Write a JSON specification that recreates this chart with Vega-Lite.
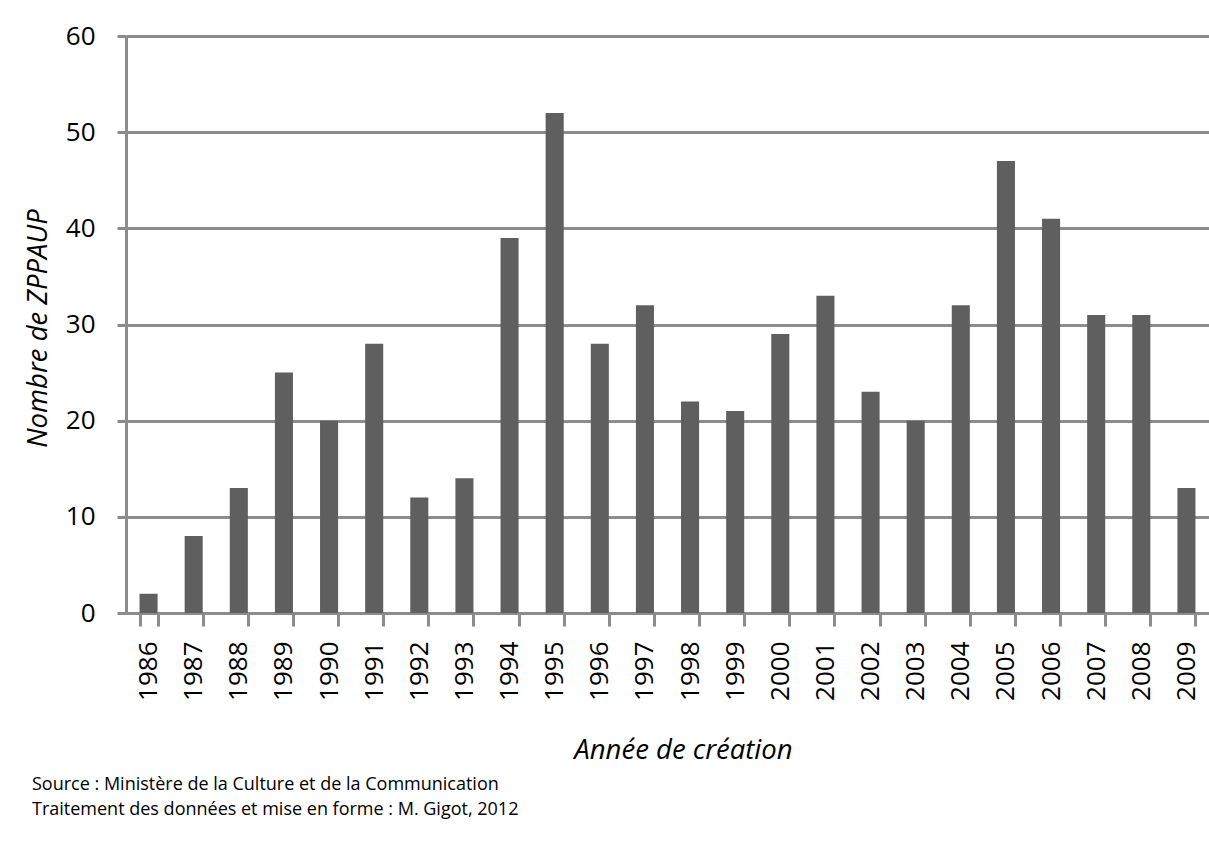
{
  "$schema": "https://vega.github.io/schema/vega-lite/v6.json",
  "width": 1083,
  "height": 577,
  "autosize": {"type": "none"},
  "padding": {"left": 126, "top": 36, "right": 0, "bottom": 230},
  "background": "white",
  "config": {"font": "Open Sans", "view": {"stroke": null}},
  "title": {
    "text": ["Source : Ministère de la Culture et de la Communication", "Traitement des données et mise en forme : M. Gigot, 2012"],
    "orient": "bottom",
    "anchor": "start",
    "frame": "group",
    "dx": -94,
    "offset": 12,
    "fontSize": 18,
    "fontWeight": "normal",
    "color": "black",
    "lineHeight": 25
  },
  "data": {
    "values": [
      {"annee": "1986", "nombre": 2},
      {"annee": "1987", "nombre": 8},
      {"annee": "1988", "nombre": 13},
      {"annee": "1989", "nombre": 25},
      {"annee": "1990", "nombre": 20},
      {"annee": "1991", "nombre": 28},
      {"annee": "1992", "nombre": 12},
      {"annee": "1993", "nombre": 14},
      {"annee": "1994", "nombre": 39},
      {"annee": "1995", "nombre": 52},
      {"annee": "1996", "nombre": 28},
      {"annee": "1997", "nombre": 32},
      {"annee": "1998", "nombre": 22},
      {"annee": "1999", "nombre": 21},
      {"annee": "2000", "nombre": 29},
      {"annee": "2001", "nombre": 33},
      {"annee": "2002", "nombre": 23},
      {"annee": "2003", "nombre": 20},
      {"annee": "2004", "nombre": 32},
      {"annee": "2005", "nombre": 47},
      {"annee": "2006", "nombre": 41},
      {"annee": "2007", "nombre": 31},
      {"annee": "2008", "nombre": 31},
      {"annee": "2009", "nombre": 13}
    ]
  },
  "mark": {"type": "bar", "color": "#5f5f5f"},
  "encoding": {
    "x": {
      "field": "annee",
      "type": "ordinal",
      "scale": {"paddingInner": 0.6, "paddingOuter": 0.3},
      "axis": {
        "title": "Année de création",
        "titleFontSize": 27.5,
        "titleFontStyle": "italic",
        "titleFontWeight": "normal",
        "titleColor": "black",
        "titleX": 557,
        "titleY": 145,
        "titleBaseline": "alphabetic",
        "labelAngle": -90,
        "labelFontSize": 26,
        "labelColor": "black",
        "labelPadding": 15,
        "tickBand": "extent",
        "tickSize": 13,
        "tickWidth": 3,
        "tickColor": "#8c8c8c",
        "domainColor": "#8c8c8c",
        "domainWidth": 3
      }
    },
    "y": {
      "field": "nombre",
      "type": "quantitative",
      "scale": {"domain": [0, 60]},
      "axis": {
        "title": "Nombre de ZPPAUP",
        "titleFontSize": 27.5,
        "titleFontStyle": "italic",
        "titleFontWeight": "normal",
        "titleColor": "black",
        "titleX": -80,
        "titleY": 292,
        "titleAlign": "center",
        "titleBaseline": "alphabetic",
        "values": [0, 10, 20, 30, 40, 50, 60],
        "labelFontSize": 26,
        "labelColor": "black",
        "labelPadding": 22,
        "tickSize": 9,
        "tickWidth": 3,
        "tickColor": "#8c8c8c",
        "domainColor": "#8c8c8c",
        "domainWidth": 3,
        "grid": true,
        "gridColor": "#8c8c8c",
        "gridWidth": 3
      }
    }
  }
}
